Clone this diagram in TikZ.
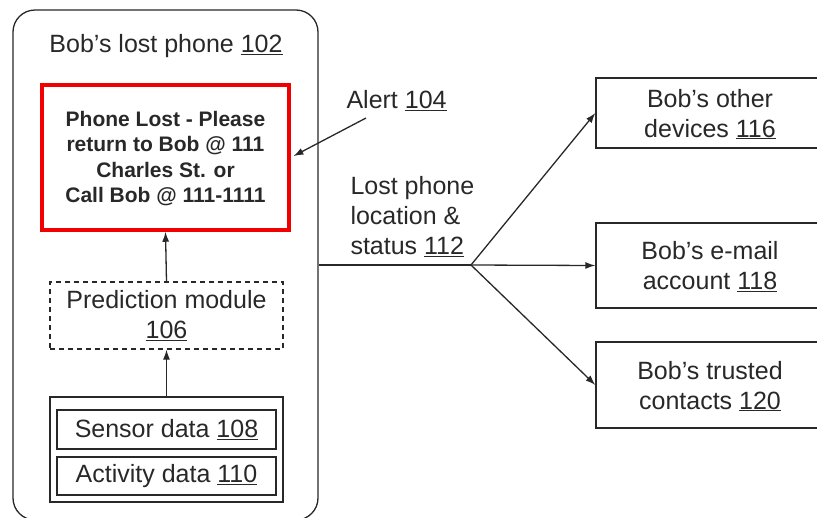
\documentclass[tikz,border=0pt]{standalone}
\usepackage{fontspec}
\setmainfont{Liberation Sans}
\usepackage{xcolor}
\usepackage{tikz}
\usetikzlibrary{arrows.meta, positioning}

\definecolor{alertred}{RGB}{240,0,0}
\definecolor{inkgray}{RGB}{40,40,40}

\begin{document}
\begin{tikzpicture}[
    x=1pt, y=-1pt,
    every node/.style={font=\fontsize{25}{30}\selectfont, text=inkgray},
    box/.style={draw=inkgray, line width=1.3pt, align=center, inner sep=0pt},
    alertbox/.style={draw=alertred, line width=3.5pt, align=center, inner sep=0pt,
      font=\fontsize{21}{25.5}\selectfont\bfseries},
    dashbox/.style={box, dash pattern=on 5pt off 4pt},
    line/.style={draw=inkgray, line width=1.3pt},
    >={Latex[length=10pt, width=7pt]}
  ]

  \useasboundingbox (0,0) rectangle (817,517);
  \clip (0,0) rectangle (817,517);

  % ── Bob's phone (left) ──────────────────────────────────────────────────
  % outer frame runs past the bottom edge of the picture
  \node[box, rounded corners=22pt, minimum width=305pt, minimum height=510pt]
    (phone) at (165.5, 265) {};
  \node (title) at (166, 46) {Bob’s lost phone \underline{102}};

  \node[alertbox, minimum width=247pt, minimum height=145pt] (alert) at (165.5, 157.5)
    {\raisebox{-2pt}[\height][\depth]{\begin{tabular}{@{}c@{}}Phone Lost - Please\\return to Bob @ 111\\Charles St. or\\Call Bob @ 111-1111\end{tabular}}};

  \node[dashbox, minimum width=233pt, minimum height=67pt] (predict) at (166.5, 315.5)
    {Prediction module\\\underline{106}};

  \node[box, minimum width=233pt, minimum height=105pt] (data) at (166.5, 449.5) {};
  \node[box, minimum width=219pt, minimum height=39pt] (sensor) at (166.5, 429.5)
    {Sensor data \underline{108}};
  \node[box, minimum width=219pt, minimum height=38pt] (activity) at (166.5, 476)
    {Activity data \underline{110}};

  \draw[line, ->] (data.north) -- (predict.south);
  \draw[line, ->] (predict.north) -- (alert.south);

  % ── Alert label ─────────────────────────────────────────────────────────
  \node[anchor=west] (alertlbl) at (343, 101) {Alert \underline{104}};
  \coordinate (alerttail) at (366, 118);
  \draw[line, ->, shorten >=3pt] (alerttail) -- (alert.east);

  % ── Location & status fan-out (right) ───────────────────────────────────
  \node[anchor=north west, align=left] (status) at (347, 173)
    {Lost phone\\location \&\\status \underline{112}};
  \coordinate (hub) at (471, 265);

  \node[box, minimum width=228pt, minimum height=70pt] (devices) at (710, 113)
    {\raisebox{-3pt}[\height][\depth]{\begin{tabular}{@{}c@{}}Bob’s other\\devices \underline{116}\end{tabular}}};
  \node[box, minimum width=228pt, minimum height=85pt] (email) at (710, 265.5)
    {\raisebox{-3pt}[\height][\depth]{\begin{tabular}{@{}c@{}}Bob’s e-mail\\account \underline{118}\end{tabular}}};
  \node[box, minimum width=228pt, minimum height=86pt] (contacts) at (710, 385)
    {\raisebox{-3pt}[\height][\depth]{\begin{tabular}{@{}c@{}}Bob’s trusted\\contacts \underline{120}\end{tabular}}};

  \draw[line] (phone.east) -- (hub);
  \draw[line, ->] (hub) -- (devices.west);
  \draw[line, ->] (hub) -- (email.west);
  \draw[line, ->] (hub) -- (contacts.west);

\end{tikzpicture}
\end{document}
